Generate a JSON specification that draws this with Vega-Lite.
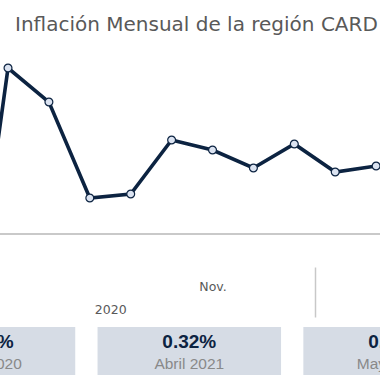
{
  "$schema": "https://vega.github.io/schema/vega-lite/v6.json",
  "background": "white",
  "padding": {"top": 15, "left": 0, "right": 0, "bottom": 0},
  "title": {
    "text": "Inflación Mensual de la región CARD",
    "anchor": "start",
    "dx": 15,
    "offset": 5,
    "font": "DejaVu Sans",
    "fontSize": 20,
    "fontWeight": "normal",
    "color": "#595959"
  },
  "datasets": {
    "inflacion": [
      {"orden": -1, "mes": "Mayo 2020", "inflacion": -0.65},
      {"orden": 0, "mes": "Junio 2020", "inflacion": 0.83},
      {"orden": 1, "mes": "Julio 2020", "inflacion": 0.66},
      {"orden": 2, "mes": "Agosto 2020", "inflacion": 0.18},
      {"orden": 3, "mes": "Septiembre 2020", "inflacion": 0.2},
      {"orden": 4, "mes": "Octubre 2020", "inflacion": 0.47},
      {"orden": 5, "mes": "Noviembre 2020", "inflacion": 0.42},
      {"orden": 6, "mes": "Diciembre 2020", "inflacion": 0.33},
      {"orden": 7, "mes": "Enero 2021", "inflacion": 0.45},
      {"orden": 8, "mes": "Febrero 2021", "inflacion": 0.31},
      {"orden": 9, "mes": "Marzo 2021", "inflacion": 0.34},
      {"orden": 10, "mes": "Abril 2021", "inflacion": 0.32}
    ],
    "kpi": [
      {"periodo": "Mayo 2020", "valor": "-0.65%"},
      {"periodo": "Abril 2021", "valor": "0.32%"},
      {"periodo": "Mayo 2021", "valor": "0.35%"}
    ]
  },
  "spacing": 9,
  "vconcat": [
    {
      "width": 380,
      "height": 227,
      "data": {"name": "inflacion"},
      "encoding": {
        "x": {
          "field": "orden",
          "type": "quantitative",
          "scale": {"domain": [-0.196, 9.095], "nice": false, "zero": false}
        },
        "y": {
          "field": "inflacion",
          "type": "quantitative",
          "scale": {"domain": [-0.165, 0.97], "nice": false, "zero": false},
          "axis": null
        }
      },
      "resolve": {"axis": {"x": "independent"}},
      "layer": [
        {
          "mark": {"type": "rule", "color": "#c8c8c8", "strokeWidth": 1.5, "clip": true},
          "encoding": {"x": null, "y": {"datum": 0, "type": "quantitative"}}
        },
        {
          "mark": {"type": "line", "color": "#0c2341", "strokeWidth": 3.6, "clip": true},
          "encoding": {
            "x": {
              "field": "orden",
              "type": "quantitative",
              "axis": {
                "orient": "bottom",
                "values": [5],
                "labelExpr": "['Jun.','Jul.','Ago.','Sep.','Oct.','Nov.','Dic.','Ene.','Feb.','Mar.','Abr.'][datum.value]",
                "domain": false,
                "ticks": false,
                "grid": false,
                "title": null,
                "labelFlush": false,
                "labelFont": "DejaVu Sans",
                "labelFontSize": 12.5,
                "labelColor": "#595959",
                "labelBaseline": "alphabetic",
                "labelPadding": 23
              }
            }
          }
        },
        {
          "mark": {"type": "point", "filled": true, "fill": "#dbe3f1", "stroke": "#0c2341", "strokeWidth": 1.2, "size": 62, "opacity": 1, "clip": true},
          "encoding": {
            "x": {
              "field": "orden",
              "type": "quantitative",
              "axis": {
                "orient": "bottom",
                "values": [2.5, 7.5],
                "labelExpr": "datum.value < 5 ? '2020' : ''",
                "domain": false,
                "ticks": true,
                "tickSize": 50,
                "tickWidth": 1.5,
                "tickColor": "#c8c8c8",
                "tickOpacity": {"condition": {"test": "datum.value < 5", "value": 0}, "value": 1},
                "grid": false,
                "title": null,
                "labelFlush": false,
                "labelOverlap": false,
                "labelFont": "DejaVu Sans",
                "labelFontSize": 12.5,
                "labelColor": "#595959",
                "labelBaseline": "alphabetic",
                "labelPadding": -4
              }
            },
            "tooltip": [{"field": "mes"}, {"field": "inflacion"}]
          }
        }
      ]
    },
    {
      "width": 380,
      "height": 48,
      "data": {"name": "kpi"},
      "encoding": {
        "x": {
          "field": "periodo",
          "type": "nominal",
          "sort": null,
          "scale": {"type": "band", "range": [-108.25, 486.85], "paddingInner": 0.1084, "paddingOuter": 0},
          "axis": null
        }
      },
      "layer": [
        {"mark": {"type": "bar", "color": "#d6dce5", "clip": true}},
        {
          "mark": {"type": "text", "font": "Liberation Sans", "fontSize": 19, "fontWeight": "bold", "color": "#0c2341", "baseline": "top", "clip": true},
          "encoding": {
            "y": {"datum": "valor", "type": "nominal", "scale": {"type": "point", "domain": ["valor", "fecha"], "padding": 0.1857}, "axis": null},
            "text": {"field": "valor"}
          }
        },
        {
          "mark": {"type": "text", "font": "Liberation Sans", "fontSize": 15.5, "color": "#898989", "baseline": "alphabetic", "clip": true},
          "encoding": {
            "y": {"datum": "fecha", "type": "nominal"},
            "text": {"field": "periodo"}
          }
        }
      ]
    }
  ],
  "config": {
    "view": {"stroke": null},
    "axis": {"grid": false}
  }
}
